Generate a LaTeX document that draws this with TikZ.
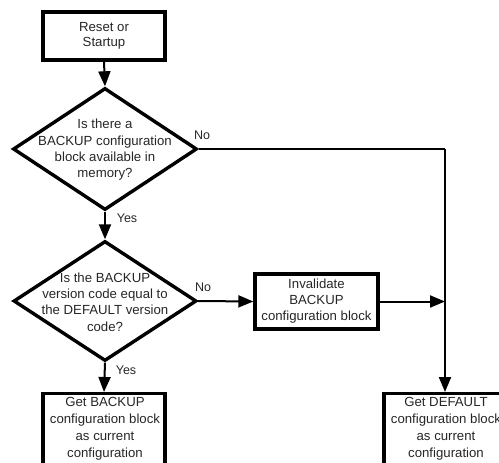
\documentclass[tikz,border=0pt]{standalone}
\usepackage{fontspec}
\setmainfont{Liberation Sans}
\usetikzlibrary{shapes.geometric,arrows.meta}
\begin{document}
\begin{tikzpicture}[x=1pt,y=-1pt,
  txt/.style={font=\fontsize{13.2}{16.3}\selectfont, text=black!85, align=center, inner sep=0pt},
  procbox/.style={draw, line width=3.4pt, minimum width=122pt, inner sep=0pt},
  decbox/.style={draw, diamond, line width=3.4pt, inner sep=0pt, minimum width=184pt, minimum height=122pt},
  conn/.style={line width=2pt, -{Triangle[length=15pt,width=12pt]}},
  plain/.style={line width=2pt},
  lbl/.style={font=\fontsize{12.5}{14}\selectfont, text=black!85, inner sep=0pt}]
\useasboundingbox (0,0) rectangle (499,463);
\clip (0,0) rectangle (499,463);
% nodes
\node[procbox, minimum height=48pt] (reset) at (104,36) {};
\node[txt, font=\fontsize{13.2}{15.5}\selectfont] at (104,36) {Reset or\\Startup};
\node[decbox] (d1) at (105,149) {};
\node[txt] at (105,150) {Is there a\\BACKUP configuration\\block available in\\memory?};
\node[decbox, minimum width=183pt, minimum height=120pt] (d2) at (105,301) {};
\node[txt] at (105,302) {Is the BACKUP\\version code equal to\\the DEFAULT version\\code?};
\node[procbox, minimum width=123pt, minimum height=55pt] (inv) at (316.5,301.5) {};
\node[txt, font=\fontsize{13.2}{16}\selectfont] at (316.5,301.5) {Invalidate\\BACKUP\\configuration block};
\node[procbox, minimum height=100pt, anchor=north] (getb) at (104,392) {};
\node[txt, font=\fontsize{13.2}{17}\selectfont, anchor=north] at (105,397) {Get BACKUP\\configuration block\\as current\\configuration};
\node[procbox, minimum height=100pt, anchor=north] (getd) at (445,392) {};
\node[txt, font=\fontsize{13.2}{17}\selectfont, anchor=north] at (446,397) {Get DEFAULT\\configuration block\\as current\\configuration};
\coordinate (corner) at (445,149);
\coordinate (join) at (445,301.5);
% connectors
\draw[conn] (reset.south) -- (d1.north);
\draw[conn] (d1.south) -- (d2.north);
\draw[conn] (d2.south) -- (getb.north);
\draw[conn] (d2.east) -- (inv.west);
\draw[conn] (inv.east) -- (join);
\draw[plain] (d1.east) -- (corner);
\draw[conn] (corner) -- (getd.north);
% labels
\node[lbl] at (202,135) {No};
\node[lbl] at (127,218) {Yes};
\node[lbl] at (203,287) {No};
\node[lbl] at (126,370) {Yes};
\end{tikzpicture}
\end{document}
